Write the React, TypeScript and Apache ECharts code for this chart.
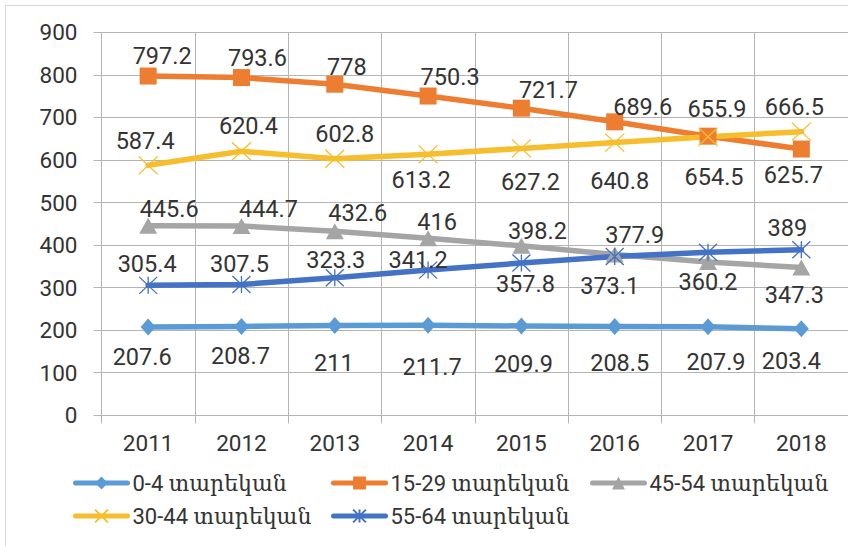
import React, { useEffect, useRef } from "react";
import * as echarts from "echarts";

const YEARS = ["2011", "2012", "2013", "2014", "2015", "2016", "2017", "2018"];
const Y_TICKS = [0, 900, 100]; // min, max, interval

const NAME_0_4 = "0-4 տարեկան";
const NAME_15_29 = "15-29 տարեկան";
const NAME_45_54 = "45-54 տարեկան";
const NAME_30_44 = "30-44 տարեկան";
const NAME_55_64 = "55-64 տարեկան";

const V_0_4 = [207.6, 208.7, 211, 211.7, 209.9, 208.5, 207.9, 203.4];
const V_15_29 = [797.2, 793.6, 778, 750.3, 721.7, 689.6, 655.9, 625.7];
const V_45_54 = [445.6, 444.7, 432.6, 416, 398.2, 377.9, 360.2, 347.3];
const V_30_44 = [587.4, 620.4, 602.8, 613.2, 627.2, 640.8, 654.5, 666.5];
const V_55_64 = [305.4, 307.5, 323.3, 341.2, 357.8, 373.1, 383, 389];

// label placement (offset from the point, px); null = label hidden
const OFF_0_4 = [[-6, 30], [-1, 30], [-1, 37], [4, 42], [2, 38], [5, 36], [8, 35], [-10, 32]];
const OFF_15_29 = [[14, -20], [16, -20], [12, -17], [22, -19], [27, -18], [28, -15], [9, -27], [-8, 26]];
const OFF_45_54 = [[21, -17], [27, -17], [23, -18], [9, -16], [16, -15], [20, -19], [0, 20], [-7, 27]];
const OFF_30_44 = [[-3, -24], [7, -25], [10, -25], [-7, 26], [9, 34], [5, 38], [6, 40], [-7, -25]];
const OFF_55_64 = [[-1, -21], [-2, -20], [1, -18], [-10, -10], [4, 21], [-5, 29], null, [-14, -22]];

const FONT = "Roboto, 'DejaVu Sans', sans-serif";
const LEGEND_FONT = "Roboto, 'DejaVu Serif', serif";
const TEXT = "#333333";
const GRID = "#B4B4B4";

const X_SYM = "path://M0,0L20,20M20,0L0,20";
const STAR_SYM = "path://M0,0L20,20M20,0L0,20M10,0L10,20";

function makeSeries(
  name: string,
  values: number[],
  offsets: (number[] | null)[],
  color: string,
  symbol: string,
  symbolSize: number | number[],
  thin: boolean
) {
  return {
    name,
    type: "line",
    data: values.map((v, i) => {
      const off = offsets[i];
      return {
        value: v,
        label: off
          ? { show: true, position: "inside", offset: off }
          : { show: false },
      };
    }),
    symbol,
    symbolSize,
    showAllSymbol: true,
    lineStyle: { color, width: 5.5, cap: "round", join: "round" },
    itemStyle: thin
      ? { color: "rgba(0,0,0,0)", borderColor: color, borderWidth: 1.3 }
      : { color, borderColor: color, borderWidth: 0 },
    label: {
      show: true,
      fontFamily: FONT,
      fontSize: 23.5,
      color: TEXT,
      align: "center",
      verticalAlign: "middle",
    },
    emphasis: { disabled: true },
  };
}

const LEGEND_NAMES = [NAME_0_4, NAME_15_29, NAME_45_54, NAME_30_44, NAME_55_64];
const LEGEND_LEFT = [73, 331, 590, 73, 331];
const LEGEND_TOP = [472, 472, 472, 505, 505];

export default function App() {
  const ref = useRef<HTMLDivElement>(null);
  useEffect(() => {
    if (!ref.current) return;
    const chart = echarts.init(ref.current, null, { renderer: "svg" });
    chart.setOption({
      animation: false,
      backgroundColor: "#ffffff",
      graphic: [
        {
          type: "rect",
          shape: { x: 5.5, y: 5.5, width: 900, height: 600 },
          style: { fill: "none", stroke: "#D9D9D9", lineWidth: 1 },
          silent: true,
          z: -1,
        },
      ],
      grid: { left: 101.5, top: 32.3, width: 757.6, height: 383 },
      xAxis: {
        type: "category",
        data: YEARS,
        boundaryGap: true,
        axisLine: { show: true, lineStyle: { color: GRID, width: 1 } },
        axisTick: { show: true, interval: 0, length: 8, lineStyle: { color: GRID } },
        splitLine: { show: true, interval: 0, lineStyle: { color: GRID, width: 1 } },
        axisLabel: { fontFamily: FONT, fontSize: 22.5, color: TEXT, margin: 16, interval: 0 },
      },
      yAxis: {
        type: "value",
        min: Y_TICKS[0],
        max: Y_TICKS[1],
        interval: Y_TICKS[2],
        axisLine: { show: true, lineStyle: { color: GRID, width: 1 } },
        axisTick: { show: true, length: 8, lineStyle: { color: GRID } },
        splitLine: { show: true, lineStyle: { color: GRID, width: 1 } },
        axisLabel: { fontFamily: FONT, fontSize: 22.5, color: TEXT, margin: 24 },
      },
      legend: LEGEND_NAMES.map((n, i) => ({
        data: [n],
        left: LEGEND_LEFT[i],
        top: LEGEND_TOP[i],
        padding: 0,
        itemWidth: 52,
        itemHeight: 16,
        itemGap: 0,
        selectedMode: false,
        lineStyle: { width: 5 },
        textStyle: { fontFamily: LEGEND_FONT, fontSize: 22, color: TEXT },
      })),
      series: [
        makeSeries(NAME_0_4, V_0_4, OFF_0_4, "#5B9BD5", "diamond", [15, 17], false),
        makeSeries(NAME_15_29, V_15_29, OFF_15_29, "#ED7D31", "rect", 17, false),
        makeSeries(NAME_45_54, V_45_54, OFF_45_54, "#A5A5A5", "triangle", [18, 16], false),
        makeSeries(NAME_30_44, V_30_44, OFF_30_44, "#F6BE2C", X_SYM, [19, 18], true),
        makeSeries(NAME_55_64, V_55_64, OFF_55_64, "#4472C4", STAR_SYM, [18, 17], true),
      ],
    });
    return () => chart.dispose();
  }, []);
  return (
    <div
      ref={ref}
      style={{ position: "fixed", left: 0, top: 0, width: 848, height: 546 }}
    />
  );
}
